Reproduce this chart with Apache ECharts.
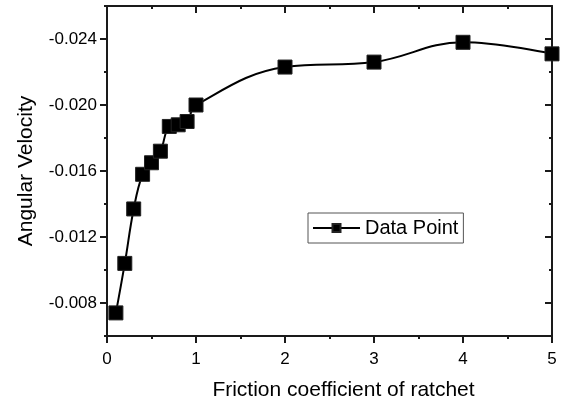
<!DOCTYPE html>
<html>
<head>
<meta charset="utf-8">
<script src="https://cdn.jsdelivr.net/npm/echarts@6/dist/echarts.min.js"></script>
<style>
  html, body { margin: 0; padding: 0; background: #fff; }
  #chart { width: 565px; height: 406px; }
</style>
</head>
<body>
<div id="chart"></div>
<script>
// Friction coefficient of the ratchet vs. resulting angular velocity
const friction = [0.1, 0.2, 0.3, 0.4, 0.5, 0.6, 0.7, 0.8, 0.9, 1, 2, 3, 4, 5];
const angularVelocity = [-0.0074, -0.0104, -0.0137, -0.0158, -0.0165, -0.0172, -0.0187, -0.0188, -0.0190, -0.0200, -0.0223, -0.0226, -0.0238, -0.0231];
const yTickValues = [-0.024, -0.020, -0.016, -0.012, -0.008];
const xTickLabels = ['0', '1', '2', '3', '4', '5'];
const seriesName = 'Data Point';

const FONT = '"Liberation Sans", Arial, sans-serif';
const INK = '#1a1a1a';
const Y_MIN = -0.026, Y_MAX = -0.006;

const points = friction.map((x, i) => [x, angularVelocity[i]]);

// Shared pieces for the framed axes
const lineStyle = { color: INK, width: 2 };

function yAxisMajor(position, inside, showLabels) {
  return {
    type: 'value', position, inverse: true, min: Y_MIN, max: Y_MAX,
    axisLine: { show: true, lineStyle },
    axisTick: { show: true, inside, length: 7, lineStyle: { color: INK, width: 2 }, customValues: yTickValues },
    axisLabel: {
      show: showLabels, customValues: yTickValues, margin: 10,
      fontFamily: FONT, fontSize: 17, color: '#000',
      formatter: v => v.toFixed(3)
    },
    splitLine: { show: false }
  };
}
function yAxisMinor(position, inside) {
  return {
    type: 'value', position, inverse: true, min: Y_MIN, max: Y_MAX, interval: 0.002,
    axisLine: { show: false },
    axisTick: { show: true, inside, length: 3, lineStyle: { color: INK, width: 2 } },
    axisLabel: { show: false },
    splitLine: { show: false }
  };
}
function xAxis(position, inside, showLabels) {
  return {
    type: 'value', position, min: 0, max: 5, interval: 1,
    axisLine: { show: true, onZero: false, lineStyle },
    axisTick: { show: true, inside, length: 7, lineStyle: { color: INK, width: 2 } },
    minorTick: { show: true, splitNumber: 2, length: 3, lineStyle: { color: INK, width: 2 } },
    axisLabel: {
      show: showLabels, margin: 15, fontFamily: FONT, fontSize: 17, color: '#000',
      formatter: v => xTickLabels[Math.round(v)]
    },
    splitLine: { show: false }
  };
}

const bottomX = xAxis('bottom', false, true);
Object.assign(bottomX, {
  name: 'Friction coefficient of ratchet',
  nameLocation: 'middle',
  nameGap: 44,
  nameTextStyle: { fontFamily: FONT, fontSize: 21, color: '#000', padding: [0, 0, 0, 28] }
});

const leftY = yAxisMajor('left', false, true);
Object.assign(leftY, {
  name: 'Angular Velocity',
  nameLocation: 'middle',
  nameRotate: 90,
  nameGap: 70,
  nameTextStyle: { fontFamily: FONT, fontSize: 21, color: '#000' }
});

const chart = echarts.init(document.getElementById('chart'), null, { renderer: 'canvas' });
chart.setOption({
  animation: false,
  backgroundColor: '#fff',
  grid: { left: 107, right: 13, top: 6, bottom: 70, containLabel: false },
  xAxis: [bottomX, xAxis('top', true, false)],
  yAxis: [leftY, yAxisMinor('left', false), yAxisMajor('right', true, false), yAxisMinor('right', true)],
  legend: {
    data: [seriesName],
    left: 308, top: 213,
    orient: 'horizontal',
    backgroundColor: '#fff',
    borderColor: '#555', borderWidth: 1,
    padding: [5, 5, 5, 4],
    itemWidth: 47, itemHeight: 10,
    itemGap: 6,
    textStyle: { fontFamily: FONT, fontSize: 20, color: '#000' }
  },
  series: [{
    name: seriesName,
    type: 'line',
    data: points,
    xAxisIndex: 0, yAxisIndex: 0,
    smooth: 0.4,
    symbol: 'rect',
    symbolSize: 14,
    showAllSymbol: true,
    lineStyle: { color: '#000', width: 2 },
    itemStyle: { color: '#000', borderColor: '#222', borderWidth: 1 },
    z: 5
  }]
});
</script>
</body>
</html>
